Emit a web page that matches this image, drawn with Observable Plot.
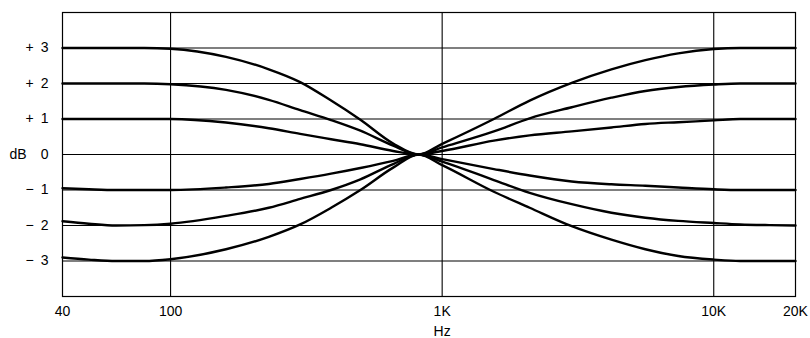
<!DOCTYPE html>
<html>
<head>
<meta charset="utf-8">
<script src="https://cdn.jsdelivr.net/npm/d3@7"></script>
<script src="https://cdn.jsdelivr.net/npm/@observablehq/plot@0.6"></script>
<style>
  html, body { margin: 0; padding: 0; background: #fff; }
</style>
</head>
<body>
<div id="chart"></div>
<script>
// Frequencies (Hz) at which the curves were read
const freqs = [40, 50, 63, 80, 100, 160, 230, 300, 390, 500, 660, 820, 1000, 1550, 2100, 3000, 4200, 5600, 7400, 10000, 12500, 16000, 20000];

// Response curves (dB)
const boost3 = [3.0, 3.0, 3.0, 3.0, 2.98, 2.75, 2.4, 2.04, 1.52, 0.98, 0.31, 0, 0.3, 1.0, 1.52, 2.02, 2.4, 2.66, 2.85, 2.97, 3.0, 3.0, 3.0];
const boost2 = [2.0, 2.0, 2.0, 2.0, 1.98, 1.82, 1.54, 1.25, 0.97, 0.67, 0.25, 0, 0.2, 0.65, 1.02, 1.33, 1.6, 1.79, 1.9, 1.97, 2.0, 2.0, 2.0];
const boost1 = [1.0, 1.0, 1.0, 1.0, 1.0, 0.9, 0.74, 0.58, 0.43, 0.29, 0.1, 0, 0.1, 0.39, 0.54, 0.65, 0.76, 0.86, 0.91, 0.96, 1.0, 1.0, 1.0];
const cut1 = [-0.95, -0.98, -1.0, -1.0, -1.0, -0.93, -0.83, -0.69, -0.54, -0.38, -0.18, 0, -0.13, -0.41, -0.59, -0.76, -0.84, -0.88, -0.93, -0.98, -1.0, -1.0, -1.0];
const cut2 = [-1.88, -1.95, -2.0, -1.99, -1.95, -1.73, -1.5, -1.25, -1.0, -0.7, -0.27, 0, -0.2, -0.72, -1.08, -1.4, -1.64, -1.78, -1.87, -1.93, -1.97, -1.99, -2.0];
const cut3 = [-2.9, -2.96, -3.0, -3.0, -2.95, -2.67, -2.32, -1.97, -1.5, -1.0, -0.37, 0, -0.3, -1.05, -1.5, -2.02, -2.4, -2.67, -2.86, -2.96, -3.0, -3.0, -3.0];

const seriesNames = ["+3", "+2", "+1", "-1", "-2", "-3"];
const seriesValues = [boost3, boost2, boost1, cut1, cut2, cut3];

// Axis ticks and labels
const xTicks = [40, 100, 1000, 10000, 20000];
const xTickLabels = ["40", "100", "1K", "10K", "20K"];
const xGrid = [100, 1000, 10000];
const yTicks = [3, 2, 1, 0, -1, -2, -3];
const yTickLabels = ["+\u20023", "+\u20022", "+\u20021", "0", "\u2212\u20021", "\u2212\u20022", "\u2212\u20023"];
const yUnit = "dB";
const xUnit = "Hz";

const rows = seriesNames.flatMap((name, s) =>
  freqs.map((f, i) => ({series: name, freq: f, db: seriesValues[s][i]}))
);

const chart = Plot.plot({
  width: 810,
  height: 338,
  marginLeft: 62,
  marginRight: 15,
  marginTop: 12,
  marginBottom: 42,
  style: {
    fontFamily: "'Liberation Sans', Arial, Helvetica, sans-serif",
    fontSize: "14px",
    color: "#000",
    background: "#fff"
  },
  x: {type: "log", domain: [40, 20000], axis: null},
  y: {domain: [-4, 4], axis: null},
  marks: [
    Plot.ruleX(xGrid, {stroke: "#000", strokeWidth: 1.1}),
    Plot.ruleY(yTicks, {stroke: "#000", strokeWidth: 1.1}),
    Plot.frame({stroke: "#000", strokeWidth: 1.2}),
    Plot.line(rows, {
      x: "freq", y: "db", z: "series",
      stroke: "#000", strokeWidth: 2.4,
      curve: "monotone-x", strokeLinejoin: "round"
    }),
    // x tick labels
    Plot.text(xTicks, {
      x: d => d, text: (d, i) => xTickLabels[i],
      frameAnchor: "bottom", dy: 19, fill: "#000"
    }),
    // y tick labels
    Plot.text(yTicks, {
      y: d => d, text: (d, i) => yTickLabels[i],
      frameAnchor: "left", dx: -14, textAnchor: "end", fill: "#000"
    }),
    Plot.text([yUnit], {y: [0], frameAnchor: "left", dx: -53, textAnchor: "start", fill: "#000"}),
    Plot.text([xUnit], {x: [1000], frameAnchor: "bottom", dy: 39, fill: "#000"})
  ]
});

document.getElementById("chart").appendChild(chart);
</script>
</body>
</html>
